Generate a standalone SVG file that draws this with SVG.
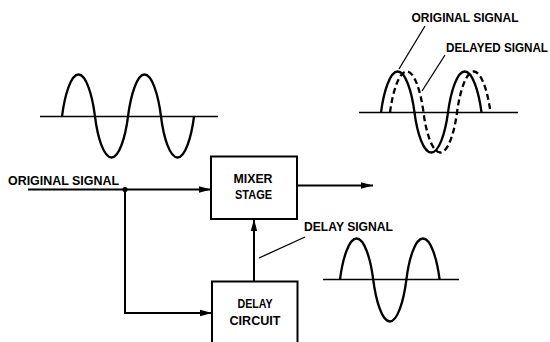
<svg xmlns="http://www.w3.org/2000/svg" width="550" height="342" viewBox="0 0 550 342">
<style>
  .bg { fill: #ffffff; }
  .box { fill: #ffffff; stroke: #000; stroke-width: 2; }
  .wire { fill: none; stroke: #000; stroke-width: 2; }
  .leader { fill: none; stroke: #000; stroke-width: 1.3; }
  .axis { fill: none; stroke: #000; stroke-width: 1.3; }
  .wave { fill: none; stroke: #000; stroke-width: 2.3; }
  .dash { fill: none; stroke: #000; stroke-width: 2.3; stroke-dasharray: 6 3.5; }
  text { font-family: "Liberation Sans", Arial, sans-serif; font-weight: bold; font-size: 12px; fill: #000; }
</style>
<defs>
  <marker id="arr" markerUnits="userSpaceOnUse" markerWidth="12" markerHeight="8" refX="12" refY="4" orient="auto">
    <path d="M0,0.8 L12,4 L0,7.2 z" fill="#000"/>
  </marker>
</defs>
<rect class="bg" x="0" y="0" width="550" height="342"/>

<g id="wave-input">
  <line class="axis" x1="40" y1="116.5" x2="218" y2="116.5"/>
  <path class="wave" d="M62,116.5 c 2.7,-21.84 9,-42 16.5,-42 s 13.8,20.16 16.5,42 s 9,41 16.5,41 s 13.8,-19.7 16.5,-41 s 9,-42 16.5,-42 s 13.8,20.16 16.5,42 s 9,41 16.5,41 s 13.8,-19.7 16.5,-41"/>
</g>

<g id="wave-compare">
  <line class="axis" x1="359" y1="112.5" x2="518" y2="112.5"/>
  <path class="wave" d="M381,112.5 c 2.75,-21.3 9.1,-41 16.75,-41 s 14,19.7 16.75,41 s 9.1,40 16.75,40 s 14,-19.2 16.75,-40 s 9.1,-41 16.75,-41 s 14,19.7 16.75,41"/>
  <path class="dash" d="M390,112.5 c 2.75,-21.3 9.1,-41 16.75,-41 s 14,19.7 16.75,41 s 9.1,40 16.75,40 s 14,-19.2 16.75,-40 s 9.1,-41 16.75,-41 s 14,19.7 16.75,41"/>
  <line class="leader" x1="425" y1="26" x2="399" y2="69"/>
  <line class="leader" x1="445" y1="55" x2="422" y2="91"/>
  <text x="411.5" y="21.5" textLength="107" lengthAdjust="spacingAndGlyphs">ORIGINAL SIGNAL</text>
  <text x="446" y="52" textLength="102" lengthAdjust="spacingAndGlyphs">DELAYED SIGNAL</text>
</g>

<g id="wave-delay">
  <line class="axis" x1="323" y1="279.5" x2="459" y2="279.5"/>
  <path class="wave" d="M340,279.5 c 2.7,-21.3 9,-41 16.6,-41 s 13.9,19.7 16.6,41 s 9,42 16.6,42 s 13.9,-20.2 16.6,-42 s 9,-41 16.6,-41 s 13.9,19.7 16.6,41"/>
</g>

<g id="connectors">
  <line class="wire" x1="28" y1="189.5" x2="211" y2="189.5" marker-end="url(#arr)"/>
  <circle cx="125" cy="189.5" r="2.6" fill="#000"/>
  <polyline class="wire" points="125,189.5 125,313 212,313" marker-end="url(#arr)"/>
  <line class="wire" x1="254" y1="281" x2="254" y2="219" marker-end="url(#arr)"/>
  <line class="wire" x1="297" y1="185.5" x2="373" y2="185.5" marker-end="url(#arr)"/>
  <line class="leader" x1="305" y1="237" x2="259" y2="258"/>
  <text x="8" y="184.5" textLength="111" lengthAdjust="spacingAndGlyphs">ORIGINAL SIGNAL</text>
  <text x="304" y="231" textLength="89" lengthAdjust="spacingAndGlyphs">DELAY SIGNAL</text>
</g>

<g id="mixer-stage">
  <rect class="box" x="211" y="156.5" width="86" height="62.5"/>
  <text x="233.5" y="182.5" textLength="39" lengthAdjust="spacingAndGlyphs">MIXER</text>
  <text x="235" y="198.5" textLength="37" lengthAdjust="spacingAndGlyphs">STAGE</text>
</g>

<g id="delay-circuit">
  <rect class="box" x="212" y="281.5" width="85.5" height="70"/>
  <text x="237.5" y="308" textLength="35" lengthAdjust="spacingAndGlyphs">DELAY</text>
  <text x="229.5" y="325" textLength="51" lengthAdjust="spacingAndGlyphs">CIRCUIT</text>
</g>
</svg>
